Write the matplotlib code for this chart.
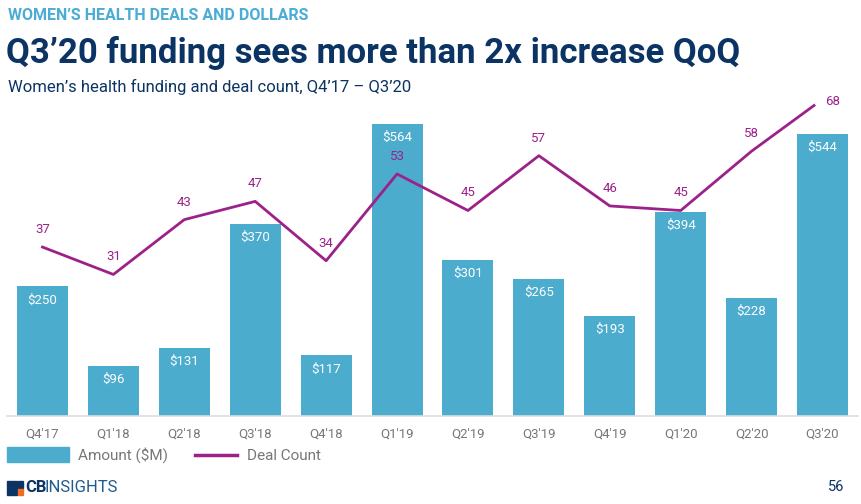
import matplotlib
matplotlib.use("Agg")
import matplotlib.pyplot as plt
from matplotlib.patches import Rectangle
from matplotlib.lines import Line2D

plt.rcParams['font.family'] = ['Roboto', 'DejaVu Sans']

quarters = ["Q4'17", "Q1'18", "Q2'18", "Q3'18", "Q4'18", "Q1'19",
            "Q2'19", "Q3'19", "Q4'19", "Q1'20", "Q2'20", "Q3'20"]
amounts = [250, 96, 131, 370, 117, 564, 301, 265, 193, 394, 228, 544]
deals = [37, 31, 43, 47, 34, 53, 45, 57, 46, 45, 58, 68]

bar_color = '#4BACCD'
line_color = '#9C2189'
navy = '#0B3363'
gray = '#777777'

W, H = 862, 504
fig = plt.figure(figsize=(W / 100, H / 100), dpi=100)

def fx(px):
    return px / W

def fy(py):
    return 1 - py / H

ax = fig.add_axes([fx(7), fy(416), fx(851), fy(100) - fy(416)])
x = list(range(len(quarters)))
ax.bar(x, amounts, width=0.72, color=bar_color)
ax.set_xlim(-0.5, len(quarters) - 0.5)
ax.set_ylim(0, 610)
ax.set_yticks([])
for s in ['top', 'right', 'left']:
    ax.spines[s].set_visible(False)
ax.spines['bottom'].set_color('#DDDDDD')
ax.spines['bottom'].set_linewidth(1.2)
ax.set_xticks(x)
ax.set_xticklabels(quarters, color=gray, fontsize=9.5)
ax.tick_params(axis='x', length=0, pad=8)

for xi, v in zip(x, amounts):
    ax.annotate(f"${v}", (xi, v), xytext=(0, -5), textcoords='offset points',
                ha='center', va='top', color='white', fontsize=9.5)

ax2 = ax.twinx()
ax2.plot(x[:-1] + [x[-1] - 0.12], deals, color=line_color, linewidth=2)
ax2.set_ylim(0, 69.2)
ax2.set_yticks([])
for s in ['top', 'right', 'left', 'bottom']:
    ax2.spines[s].set_visible(False)
for xi, v in zip(x[:-1], deals[:-1]):
    ax2.annotate(str(v), (xi, v), xytext=(0, 8), textcoords='offset points',
                 ha='center', va='bottom', color=line_color, fontsize=9.5)
ax2.annotate(str(deals[-1]), (x[-1], deals[-1]), xytext=(2, 3), textcoords='offset points',
             ha='left', va='center', color=line_color, fontsize=9.5)

# headings
fig.text(fx(8), fy(16), "WOMEN\u2019S HEALTH DEALS AND DOLLARS", color='#4BACD6',
         fontsize=11.5, fontweight='bold', va='center', ha='left')
fig.text(fx(6), fy(53), "Q3\u201920 funding sees more than 2x increase QoQ", color=navy,
         fontsize=25, fontweight='bold', va='center', ha='left')
fig.text(fx(8), fy(87), "Women\u2019s health funding and deal count, Q4\u201917 \u2013 Q3\u201920",
         color=navy, fontsize=12, va='center', ha='left')

# legend
fig.patches.append(Rectangle((fx(7), fy(462)), fx(62), fy(447) - fy(462),
                             transform=fig.transFigure, color=bar_color))
fig.text(fx(78), fy(455), "Amount ($M)", color=gray, fontsize=11, va='center')
fig.lines.append(Line2D([fx(195), fx(237)], [fy(455), fy(455)],
                        transform=fig.transFigure, color=line_color, linewidth=2.5))
fig.text(fx(247), fy(456), "Deal Count", color=gray, fontsize=11, va='center')

# logo
fig.patches.append(Rectangle((fx(7), fy(495)), fx(10), fy(481) - fy(495),
                             transform=fig.transFigure, color=navy))
fig.patches.append(Rectangle((fx(18), fy(488)), fx(5), fy(481) - fy(488),
                             transform=fig.transFigure, color=navy))
fig.patches.append(Rectangle((fx(18), fy(495)), fx(5), fy(489) - fy(495),
                             transform=fig.transFigure, color='#F26B21'))
fig.text(fx(25), fy(488), "CB", color=navy, fontsize=12, fontweight='bold', va='center')
fig.text(fx(45), fy(488), "INSIGHTS", color='#1F5C8C', fontsize=12, va='center')
fig.text(fx(836), fy(487), "56", color=navy, fontsize=10.5, va='center', ha='center')

fig.savefig("out.png", dpi=100)
